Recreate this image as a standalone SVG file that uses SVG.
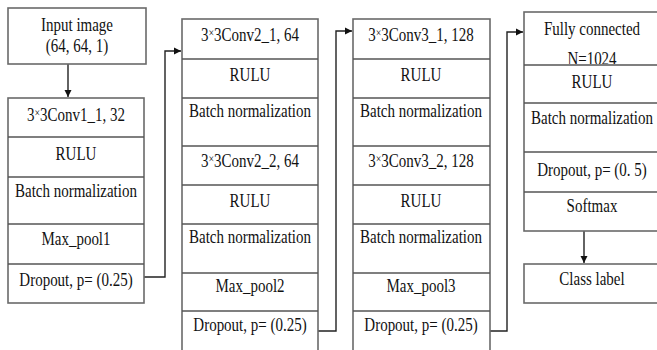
<svg xmlns="http://www.w3.org/2000/svg" width="657" height="350" viewBox="0 0 657 350">
<style>
.box{fill:#fff;stroke:#6a6a6a;stroke-width:1.6}
.div{stroke:#555;stroke-width:1.4}
.t{font-family:"Liberation Serif","Times New Roman",serif;font-size:15px;fill:#111;text-anchor:middle;transform-box:fill-box;transform-origin:center;transform:scaleY(1.2)}
.x{font-size:10px}
.c{fill:none;stroke:#222;stroke-width:1.4}
</style>
<defs>
<marker id="ah" markerWidth="8" markerHeight="8" refX="7" refY="4" orient="auto" markerUnits="userSpaceOnUse">
<path d="M0,0.5 L7,4 L0,7.5 Z" fill="#111"/>
</marker>
</defs>
<rect width="657" height="350" fill="#fff"/>

<g id="connectors">
<path class="c" d="M68,64 V97" marker-end="url(#ah)"/>
<path class="c" d="M144,277 H165 V51 H181" marker-end="url(#ah)"/>
<path class="c" d="M318,331 H336 V31 H352" marker-end="url(#ah)"/>
<path class="c" d="M490,331 H507 V32 H523" marker-end="url(#ah)"/>
<path class="c" d="M584,231 V263" marker-end="url(#ah)"/>
</g>

<g id="input">
<rect class="box" x="8" y="8" width="138" height="56"/>
<text class="t" x="77" y="30">Input image</text>
<text class="t" x="77" y="51">(64, 64, 1)</text>
</g>

<g id="block1">
<rect class="box" x="8" y="98" width="136" height="205"/>
<line class="div" x1="8" y1="137" x2="144" y2="137"/>
<line class="div" x1="8" y1="177" x2="144" y2="177"/>
<line class="div" x1="8" y1="224" x2="144" y2="224"/>
<line class="div" x1="8" y1="264" x2="144" y2="264"/>
<text class="t" x="76" y="120">3<tspan class="x" dy="-3">×</tspan><tspan dy="3">3Conv1_1, 32</tspan></text>
<text class="t" x="76" y="159">RULU</text>
<text class="t" x="76" y="196">Batch normalization</text>
<text class="t" x="76" y="244">Max_pool1</text>
<text class="t" x="76" y="285">Dropout, p= (0.25)</text>
</g>

<g id="block2">
<rect class="box" x="182" y="19" width="136" height="334"/>
<line class="div" x1="182" y1="59" x2="318" y2="59"/>
<line class="div" x1="182" y1="98" x2="318" y2="98"/>
<line class="div" x1="182" y1="146" x2="318" y2="146"/>
<line class="div" x1="182" y1="185" x2="318" y2="185"/>
<line class="div" x1="182" y1="224" x2="318" y2="224"/>
<line class="div" x1="182" y1="273" x2="318" y2="273"/>
<line class="div" x1="182" y1="311" x2="318" y2="311"/>
<text class="t" x="250" y="40">3<tspan class="x" dy="-3">×</tspan><tspan dy="3">3Conv2_1, 64</tspan></text>
<text class="t" x="250" y="80">RULU</text>
<text class="t" x="250" y="116">Batch normalization</text>
<text class="t" x="250" y="166">3<tspan class="x" dy="-3">×</tspan><tspan dy="3">3Conv2_2, 64</tspan></text>
<text class="t" x="250" y="206">RULU</text>
<text class="t" x="250" y="242">Batch normalization</text>
<text class="t" x="250" y="291">Max_pool2</text>
<text class="t" x="250" y="330">Dropout, p= (0.25)</text>
</g>

<g id="block3">
<rect class="box" x="353" y="19" width="137" height="334"/>
<line class="div" x1="353" y1="59" x2="490" y2="59"/>
<line class="div" x1="353" y1="98" x2="490" y2="98"/>
<line class="div" x1="353" y1="146" x2="490" y2="146"/>
<line class="div" x1="353" y1="185" x2="490" y2="185"/>
<line class="div" x1="353" y1="224" x2="490" y2="224"/>
<line class="div" x1="353" y1="273" x2="490" y2="273"/>
<line class="div" x1="353" y1="311" x2="490" y2="311"/>
<text class="t" x="421" y="40">3<tspan class="x" dy="-3">×</tspan><tspan dy="3">3Conv3_1, 128</tspan></text>
<text class="t" x="421" y="80">RULU</text>
<text class="t" x="421" y="116">Batch normalization</text>
<text class="t" x="421" y="166">3<tspan class="x" dy="-3">×</tspan><tspan dy="3">3Conv3_2, 128</tspan></text>
<text class="t" x="421" y="206">RULU</text>
<text class="t" x="421" y="242">Batch normalization</text>
<text class="t" x="421" y="291">Max_pool3</text>
<text class="t" x="421" y="330">Dropout, p= (0.25)</text>
</g>

<g id="block4">
<rect class="box" x="524" y="12" width="140" height="219"/>
<text class="t" x="592" y="34">Fully connected</text>
<text class="t" x="592" y="64">N=1024</text>
<rect x="525" y="64" width="138" height="4" fill="#fff"/>
<line class="div" x1="524" y1="65" x2="664" y2="65"/>
<line class="div" x1="524" y1="103" x2="664" y2="103"/>
<line class="div" x1="524" y1="152" x2="664" y2="152"/>
<line class="div" x1="524" y1="192" x2="664" y2="192"/>
<text class="t" x="592" y="87">RULU</text>
<text class="t" x="592" y="123">Batch normalization</text>
<text class="t" x="592" y="175">Dropout, p= (0. 5)</text>
<text class="t" x="592" y="211">Softmax</text>
</g>

<g id="classlabel">
<rect class="box" x="524" y="264" width="140" height="39"/>
<text class="t" x="592" y="284">Class label</text>
</g>
</svg>
